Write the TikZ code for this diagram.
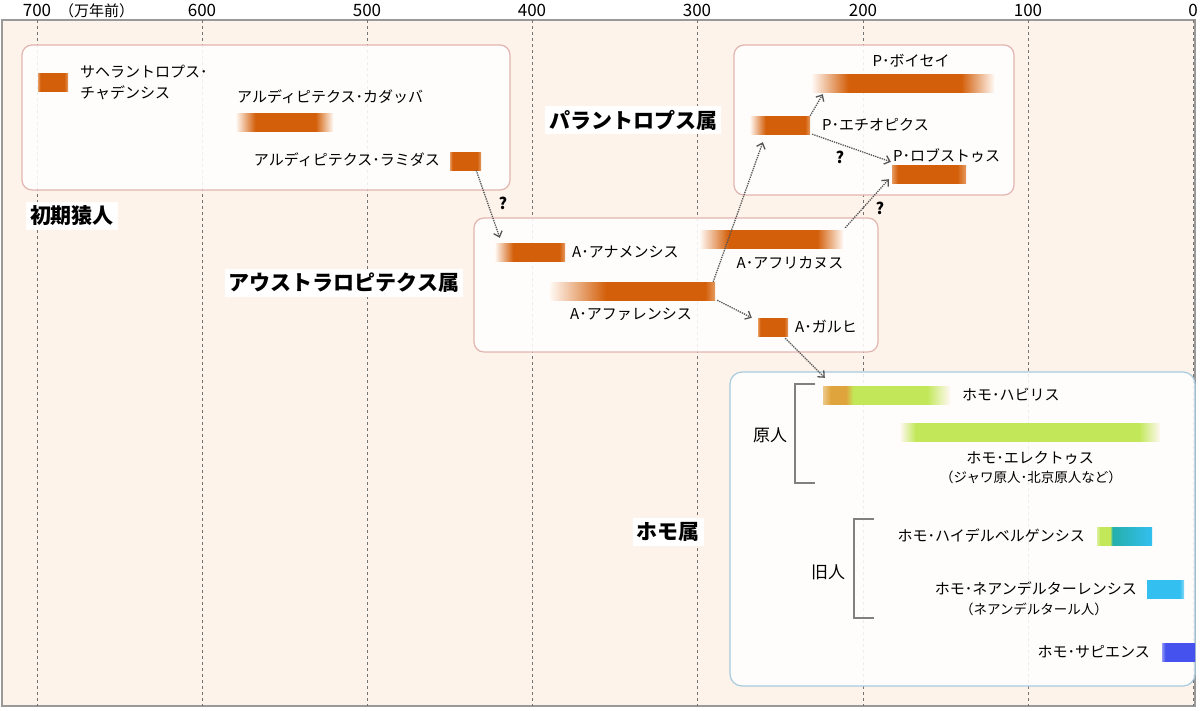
\documentclass[tikz,border=0pt]{standalone}
\usepackage{fontspec}
\setmainfont{Noto Sans CJK JP}
\usetikzlibrary{arrows.meta}

\definecolor{pagebg}{HTML}{FDF3EA}
\definecolor{barbg}{HTML}{FFF8F3}
\definecolor{orng}{HTML}{D35F0A}
\definecolor{orngl}{HTML}{E59A60}
\definecolor{gold}{HTML}{E0A43C}
\definecolor{lgreen}{HTML}{C2E85A}
\definecolor{teal}{HTML}{26AFAA}
\definecolor{skyb}{HTML}{33BFF0}
\definecolor{blu}{HTML}{4652EE}
\definecolor{pinkline}{HTML}{E3B5B0}
\definecolor{blueline}{HTML}{A6CBDF}
\definecolor{arrowgray}{HTML}{555555}

\pgfdeclarehorizontalshading{ofadeboth}{100bp}{color(0bp)=(barbg); color(25bp)=(barbg); color(35bp)=(orng); color(66bp)=(orng); color(75bp)=(barbg); color(100bp)=(barbg)}
\pgfdeclarehorizontalshading{ofadeleft}{100bp}{color(0bp)=(barbg); color(25bp)=(barbg); color(38bp)=(orng); color(71bp)=(orng); color(75bp)=(orngl); color(100bp)=(orngl)}
\pgfdeclarehorizontalshading{ofadelong}{100bp}{color(0bp)=(barbg); color(25bp)=(barbg); color(42bp)=(orng); color(72bp)=(orng); color(75bp)=(orngl); color(100bp)=(orngl)}
\pgfdeclarehorizontalshading{osoft}{100bp}{color(0bp)=(orngl); color(25bp)=(orngl); color(29bp)=(orng); color(69bp)=(orng); color(75bp)=(orngl); color(100bp)=(orngl)}
\pgfdeclarehorizontalshading{habshade}{100bp}{color(0bp)=(barbg); color(25bp)=(gold!60); color(28bp)=(gold); color(34bp)=(gold); color(37bp)=(lgreen); color(66bp)=(lgreen); color(75bp)=(barbg); color(100bp)=(barbg)}
\pgfdeclarehorizontalshading{ereshade}{100bp}{color(0bp)=(barbg); color(25bp)=(barbg); color(28bp)=(lgreen); color(71bp)=(lgreen); color(75bp)=(barbg); color(100bp)=(barbg)}
\pgfdeclarehorizontalshading{heishade}{100bp}{color(0bp)=(lgreen!60); color(25bp)=(lgreen!60); color(28bp)=(lgreen); color(37bp)=(lgreen); color(39bp)=(teal); color(75bp)=(skyb); color(100bp)=(skyb)}
\pgfdeclarehorizontalshading{neashade}{100bp}{color(0bp)=(skyb); color(25bp)=(skyb); color(69bp)=(skyb); color(75bp)=(skyb!60); color(100bp)=(skyb!60)}
\pgfdeclarehorizontalshading{sapshade}{100bp}{color(0bp)=(blu!60); color(25bp)=(blu!60); color(30bp)=(blu); color(75bp)=(blu); color(100bp)=(blu)}

\begin{document}
\begin{tikzpicture}[x=1pt,y=-1pt,
    bar/.style={shade,inner sep=0pt,minimum height=18pt},
    sp/.style={inner sep=0pt,font=\fontsize{15}{21}\selectfont},
    grp/.style={fill=white,inner sep=4pt,font=\fontsize{21}{23}\selectfont\bfseries},
    tick/.style={font=\fontsize{17}{18}\selectfont},
    clade/.style={draw=pinkline,line width=1.2pt,rounded corners=10pt,fill=white,fill opacity=0.88},
    evo/.style={draw=arrowgray,densely dotted,line width=1.3pt,-{Straight Barb[length=5pt,width=9pt]}},
    quest/.style={font=\fontsize{16}{17}\selectfont\bfseries},
    brk/.style={draw=gray,line width=1.2pt}]
  \useasboundingbox (0,0) rectangle (1200,710);
  \draw[fill=pagebg,draw=gray!80,line width=1.2pt] (2,20) rectangle (1195,706);
  \foreach \a/\xx in {700/37,600/202,500/367,400/532,300/697,200/863,100/1028,0/1193}{
    \draw[gray!90!black,dashed] (\xx,20) -- (\xx,706);
    \node[tick] (t\a) at (\xx,10) {\a};
  }
  \node[anchor=west,inner sep=0pt,font=\fontsize{15}{16}\selectfont] (unit) at (59,11) {（万年前）};

  \draw[clade] (22,45) rectangle (510,190);
  \draw[clade] (734,45) rectangle (1014,195);
  \draw[clade] (474,218) rectangle (878,352);
  \draw[clade,draw=blueline,rounded corners=12pt] (730,372) rectangle (1195,686);

  \node[grp] (early) at (72,216) {初期猿人};
  \node[grp] (paran) at (633,120) {パラントロプス属};
  \node[grp] (austr) at (344,283) {アウストラロピテクス属};
  \node[grp] (homo) at (668,532) {ホモ属};

  \node[bar,minimum width=30pt,shading=osoft] (sahel) at (53,82) {};
  \node[bar,minimum width=97pt,shading=ofadeboth] (kad) at (284.5,122) {};
  \node[bar,minimum width=31pt,shading=osoft] (rami) at (465.5,161) {};
  \node[bar,minimum width=70pt,shading=ofadeleft] (ana) at (530,252) {};
  \node[bar,minimum width=165pt,shading=ofadelong] (afa) at (632.5,291) {};
  \node[bar,minimum width=143pt,shading=ofadeboth] (afr) at (771.5,239) {};
  \node[bar,minimum width=30pt,shading=osoft] (gar) at (773,327) {};
  \node[bar,minimum width=60pt,shading=ofadeleft] (ethi) at (780,125) {};
  \node[bar,minimum width=182pt,shading=ofadeboth] (boi) at (903,83) {};
  \node[bar,minimum width=74pt,shading=osoft] (rob) at (929,174) {};
  \node[bar,minimum width=127pt,shading=habshade] (hab) at (886.5,395) {};
  \node[bar,minimum width=260pt,shading=ereshade] (ere) at (1030,432) {};
  \node[bar,minimum width=55pt,shading=heishade] (hei) at (1124.5,536) {};
  \node[bar,minimum width=37pt,shading=neashade] (nea) at (1165.5,589) {};
  \node[bar,minimum width=33pt,shading=sapshade] (sap) at (1178.5,652) {};

  \node[sp,anchor=north west,align=left] (sahel-l) at (80,65) {サヘラントロプス･\\チャデンシス};
  \node[sp,anchor=west] (kad-l) at (237,97) {アルディピテクス･カダッバ};
  \node[sp,anchor=east] (rami-l) at (440,160) {アルディピテクス･ラミダス};
  \node[sp,anchor=west] (ana-l) at (572,252) {A･アナメンシス};
  \node[sp] (afa-l) at (631,314) {A･アファレンシス};
  \node[sp] (afr-l) at (790,263) {A･アフリカヌス};
  \node[sp,anchor=west] (gar-l) at (795,327) {A･ガルヒ};
  \node[sp,anchor=west] (ethi-l) at (822,125) {P･エチオピクス};
  \node[sp] (boi-l) at (911,61) {P･ボイセイ};
  \node[sp,anchor=west] (rob-l) at (893,156) {P･ロブストゥス};
  \node[sp,anchor=west] (hab-l) at (962,395) {ホモ･ハビリス};
  \node[sp] (ere-l) at (1030,458) {ホモ･エレクトゥス};
  \node[sp,font=\fontsize{13.5}{16}\selectfont] (ere-l2) at (1031,477) {（ジャワ原人･北京原人など）};
  \node[sp,anchor=east] (hei-l) at (1085,536) {ホモ･ハイデルベルゲンシス};
  \node[sp,anchor=east] (nea-l) at (1137,589) {ホモ･ネアンデルターレンシス};
  \node[sp,font=\fontsize{13.5}{16}\selectfont] (nea-l2) at (1034,609) {（ネアンデルタール人）};
  \node[sp,anchor=east] (sap-l) at (1150,652) {ホモ･サピエンス};

  \node[sp,font=\fontsize{17}{18}\selectfont] (genjin) at (770,435) {原人};
  \node[sp,font=\fontsize{17}{18}\selectfont] (kyujin) at (828,572) {旧人};
  \draw[brk] (815,384) -| (795,483) -- (815,483);
  \draw[brk] (874,519) -| (854,618) -- (874,618);

  \draw[evo] ([xshift=-5pt]rami.south east) -- ([xshift=5pt,yshift=5pt]ana.north west);
  \draw[evo] ([xshift=-2pt]afa.north east) -- ([xshift=13pt,yshift=-8pt]ethi.south west);
  \draw[evo] (ethi.north east) -- ([xshift=11pt,yshift=-2pt]boi.south west);
  \draw[evo] ([xshift=2pt]ethi.south east) -- ([xshift=-1pt,yshift=3pt]rob.north west);
  \draw[evo] ([xshift=2pt,yshift=2pt]afr.north east) -- ([xshift=-3pt,yshift=4pt]rob.south west);
  \draw[evo] ([xshift=2pt]afa.south east) -- ([xshift=-6pt]gar.north west);
  \draw[evo] ([xshift=-3pt,yshift=-2pt]gar.south east) -- ([xshift=2pt,yshift=8pt]hab.north west);

  \node[quest] (q1) at (503,203) {?};
  \node[quest] (q2) at (840,157) {?};
  \node[quest] (q3) at (880,208) {?};
\end{tikzpicture}
\end{document}
